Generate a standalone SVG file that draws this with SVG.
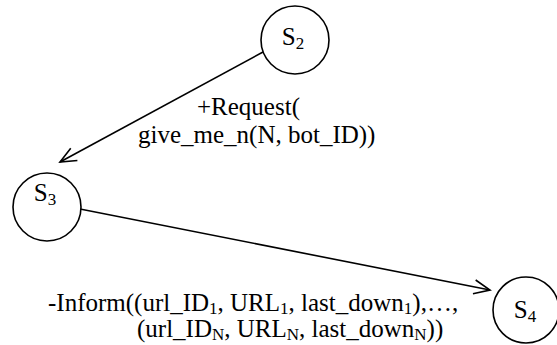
<svg xmlns="http://www.w3.org/2000/svg" width="557" height="345" viewBox="0 0 557 345">
<defs>
<marker id="arr" viewBox="0 0 20 20" refX="18" refY="10" markerWidth="20" markerHeight="20" markerUnits="userSpaceOnUse" orient="auto">
<path d="M2,3 L18,10 L2,17" fill="none" stroke="#000" stroke-width="1.6"/>
</marker>
</defs>
<style>
.node circle{fill:#fff;stroke:#000;stroke-width:1.6}
.edge{stroke:#000;stroke-width:1.6;fill:none;marker-end:url(#arr)}
</style>
<g id="connectors">
<line class="edge" x1="263" y1="52" x2="60" y2="162"/>
<line class="edge" x1="80" y1="209" x2="490" y2="290"/>
</g>
<g font-family="'Liberation Serif', 'Times New Roman', serif" font-size="25" fill="#000">
<g id="S2" class="node">
<circle cx="295" cy="40" r="34"/>
<text x="293" y="45" text-anchor="middle">S<tspan font-size="17" dy="4">2</tspan></text>
</g>
<g id="S3" class="node">
<circle cx="47" cy="207" r="34"/>
<text x="45" y="201" text-anchor="middle">S<tspan font-size="17" dy="4">3</tspan></text>
</g>
<g id="S4" class="node">
<circle cx="526" cy="310" r="33"/>
<text x="525" y="318" text-anchor="middle">S<tspan font-size="17" dy="4">4</tspan></text>
</g>
<g id="labels">
<text x="197" y="115">+Request(</text>
<text x="138" y="143">give_me_n(N, bot_ID))</text>
<text x="48" y="311">-Inform((url_ID<tspan font-size="17" dy="3">1</tspan><tspan dy="-3">, URL</tspan><tspan font-size="17" dy="3">1</tspan><tspan dy="-3">, last_down</tspan><tspan font-size="17" dy="3">1</tspan><tspan dy="-3">),…,</tspan></text>
<text x="137" y="337">(url_ID<tspan font-size="17" dy="3">N</tspan><tspan dy="-3">, URL</tspan><tspan font-size="17" dy="3">N</tspan><tspan dy="-3">, last_down</tspan><tspan font-size="17" dy="3">N</tspan><tspan dy="-3">))</tspan></text>
</g>
</g>
</svg>
